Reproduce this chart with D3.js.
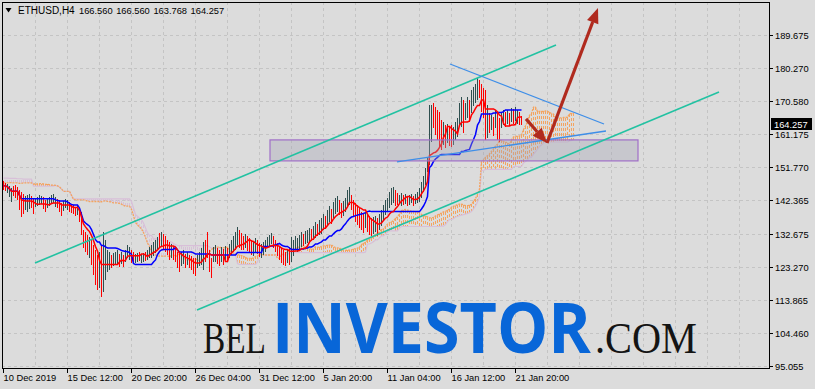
<!DOCTYPE html>
<html>
<head>
<meta charset="utf-8">
<script src="https://cdn.jsdelivr.net/npm/d3@7"></script>
<style>
body { margin: 0; background: #dcdcdc; }
svg { display: block; font-family: "Liberation Sans", Arial, sans-serif; }
</style>
</head>
<body>
<svg id="chart" width="815" height="389"></svg>
<script>
/* ETHUSD H4 bars (one bar every 4 hours) */

var highs = [
	147.9,147.3,147.0,146.4,145.9,146.4,146.7,146.1,145.3,144.7,
	144.1,143.6,143.8,144.1,143.6,142.7,143.0,143.3,143.8,143.6,
	143.3,142.4,142.7,143.3,143.8,144.1,143.3,142.7,142.4,141.6,
	142.1,142.7,142.4,141.9,141.3,141.0,140.4,140.7,140.1,139.0,
	133.8,133.3,132.4,131.9,131.0,129.6,128.1,126.7,127.6,129.6,
	133.3,131.0,128.1,127.6,126.7,127.3,127.6,128.1,127.0,127.6,
	126.7,128.1,129.6,129.0,128.1,127.6,127.0,127.3,127.6,127.0,
	127.3,127.6,128.1,129.0,129.6,130.4,131.0,131.9,133.0,133.3,
	132.7,132.1,131.0,130.4,129.8,129.3,128.7,127.6,127.0,127.6,
	128.1,127.0,127.6,126.7,126.4,125.8,125.8,126.7,127.6,128.7,
	130.4,131.0,133.3,128.1,125.8,129.0,129.6,128.7,128.1,129.0,
	128.4,129.3,128.7,129.8,131.0,132.1,133.3,134.7,133.8,133.0,
	132.1,132.7,132.1,131.5,131.0,130.4,131.5,131.0,130.1,129.8,
	130.4,131.0,131.9,132.4,133.0,132.1,131.0,130.1,129.3,128.7,
	128.1,127.6,128.4,129.0,131.9,131.0,132.1,131.5,132.4,133.3,
	132.7,133.6,133.8,134.4,134.1,135.0,136.1,135.6,136.7,137.3,
	138.4,137.9,139.6,140.7,139.8,141.9,143.0,143.6,142.4,141.6,
	142.1,143.0,145.3,146.1,143.8,142.4,141.6,141.0,140.1,139.0,
	138.7,139.0,138.4,137.9,137.3,137.6,137.9,137.3,138.4,139.6,
	141.0,142.4,143.0,144.7,145.9,146.1,145.3,144.4,143.8,144.4,
	143.8,144.1,143.6,143.8,144.1,143.6,144.1,144.7,145.9,147.6,
	149.3,151.6,154.7,169.6,169.6,170.2,169.0,168.2,167.6,165.3,
	164.7,163.9,164.1,163.3,163.9,163.3,164.7,165.9,170.2,171.9,
	171.0,170.2,171.9,171.0,173.9,174.7,175.6,177.3,176.7,175.6,
	174.4,173.9,169.6,167.3,166.7,166.2,168.2,167.6,165.9,167.6,
	168.2,167.6,168.2,167.3,168.7,168.4,169.0,168.2,167.6,166.56
];

var lows = [
	145.3,145.0,144.4,143.3,141.9,143.6,143.0,142.4,139.6,137.6,
	138.4,139.6,139.0,139.8,140.1,138.4,140.4,140.7,141.0,141.3,
	139.8,139.0,140.1,140.7,141.3,141.6,140.4,140.1,139.0,137.9,
	139.3,140.1,139.6,139.0,138.7,138.4,137.9,138.1,136.1,132.4,
	128.7,127.6,126.7,125.8,123.8,121.0,118.1,116.7,117.3,114.7,
	116.1,119.6,121.8,122.4,123.0,123.6,123.8,124.1,123.3,124.1,
	123.3,124.7,125.8,125.3,124.4,124.7,124.4,124.7,125.0,124.4,
	124.7,125.0,125.3,125.8,125.8,126.4,127.3,128.1,128.7,129.0,
	128.4,127.6,126.7,125.3,125.8,125.3,124.7,123.0,121.8,123.6,
	124.1,123.0,123.8,123.0,122.4,121.3,120.7,123.0,123.6,123.8,
	122.4,124.7,125.8,121.8,120.1,124.7,124.7,124.1,123.6,124.7,
	123.8,125.3,124.7,125.8,126.7,127.6,128.1,129.6,128.7,128.1,
	128.1,128.7,127.8,127.6,126.7,126.4,127.6,127.0,126.1,125.8,
	126.7,127.6,128.7,129.3,129.8,128.7,127.6,126.4,125.3,124.4,
	123.8,123.6,124.4,123.8,124.7,126.4,128.1,127.6,128.1,129.0,
	129.3,129.8,130.1,130.4,130.7,131.0,131.5,132.1,132.4,132.7,
	133.8,134.1,135.0,136.1,135.6,137.3,138.4,139.0,138.1,137.3,
	137.9,139.0,140.4,141.0,139.6,137.9,136.1,135.3,134.4,133.8,
	133.0,134.4,133.3,132.4,132.1,132.7,133.3,132.1,133.8,135.0,
	136.7,138.1,139.0,140.1,141.0,141.6,140.7,141.0,141.3,140.7,
	141.0,141.3,140.7,141.0,141.6,140.7,141.3,141.6,141.9,143.0,
	144.7,146.7,150.4,152.4,159.0,163.0,161.0,159.6,157.6,156.7,
	158.1,157.3,158.7,157.9,157.6,158.1,159.6,160.4,163.9,163.3,
	161.6,165.3,165.9,164.7,167.3,169.3,170.2,171.0,171.6,167.6,
	165.9,159.6,160.1,161.6,162.4,160.7,163.0,159.6,159.0,163.0,
	163.9,163.3,164.1,163.6,164.7,164.1,165.0,164.1,163.9,163.768
];

// u = bar closed up, d = bar closed down
var dirs = "dduuuddddd" + "duuudduuuu" + "dduuuuuddd" + "uuuddddudd" + "ddduddddud" +
	"uuuuduuudu" + "duuudduudu" + "uduuuuuudu" + "dddduddddu" + "ududddduuu" +
	"udddduuddu" + "duduuuuudd" + "duddduuddu" + "uuuuuddddd" + "dduduuuuuu" +
	"duuuduuduu" + "uduuduuudd" + "uuuudddddd" + "duddduuduu" + "uuuuuudduu" +
	"duduuduuuu" + "uuuuuddddd" + "ududduuuuu" + "duuduuuudd" + "ddudududdu" +
	"udududuudd";

// cloud over the first 26 bars comes from bars before the window
var spanAHead = [147.3,147.3,147.3,147.4,147.4,147.3,147.3,147.3,147.2,147.2,147.3,147.3,147.3,
	147.3,147.3,147.0,147.0,147.0,147.1,147.1,147.0,146.9,146.9,146.8,146.7,146.7];
var spanBHead = [148.7,148.7,148.7,148.6,148.6,148.6,148.6,148.5,148.5,148.5,148.4,148.4,148.4,
	148.4,148.4,146.4,146.4,146.4,146.4,146.4,146.4,146.4,146.4,146.4,146.4,146.4];

var priceTicks = [189.675, 180.270, 170.580, 161.175, 151.770, 142.365, 132.675, 123.270, 113.865, 104.460, 95.055];
var timeLabels = ["10 Dec 2019", "15 Dec 12:00", "20 Dec 20:00", "26 Dec 04:00", "31 Dec 12:00",
	"5 Jan 20:00", "11 Jan 04:00", "16 Jan 12:00", "21 Jan 20:00"];
var timeBars = [0, 32, 64, 96, 128, 160, 192, 224, 256];

var lastPrice = 164.257;
var titleValues = "166.560 166.560 163.768 164.257";

/* drawn objects, as [bar, price] */
var channelUpper = [[16, 124.4], [276.5, 186.7]];
var channelLower = [[97, 111.0], [358, 173.3]];
var wedgeUpper = [[223.5, 181.3], [300.5, 164.15]];
var wedgeLower = [[197, 153.3], [301.5, 162.15]];
var zoneBars = [133.5, 317.5];
var zonePrices = [159.6, 153.6];
var arrowShort = [[261.5, 165.6], [272, 158.7]];
var arrowLong = [[272, 158.7], [297.5, 197.3]];

/* layout */

var svg = d3.select("#chart");
var frame = {left: 2, top: 2, right: 769, bottom: 368};

var x = d3.scaleLinear().domain([0, 383]).range([3, 769]);
var y = d3.scaleLinear().domain([95.055, 189.675]).range([365.7, 34.7]);

svg.append("rect").attr("width", 815).attr("height", 389).attr("fill", "#dcdcdc");

svg.append("clipPath").attr("id", "plot-clip")
	.append("rect")
	.attr("x", frame.left + 1).attr("y", frame.top + 1)
	.attr("width", frame.right - frame.left - 1)
	.attr("height", frame.bottom - frame.top - 1);

var plot = svg.append("g").attr("clip-path", "url(#plot-clip)");

/* Grid */

var grid = plot.append("g")
	.attr("stroke", "#c4c4c4")
	.attr("stroke-dasharray", "3,3")
	.attr("shape-rendering", "crispEdges");

grid.selectAll(".hgrid").data(priceTicks)
	.enter().append("line")
	.attr("x1", frame.left).attr("x2", frame.right)
	.attr("y1", function(d){ return Math.round(y(d)) + 0.5; })
	.attr("y2", function(d){ return Math.round(y(d)) + 0.5; });

grid.selectAll(".vgrid").data(d3.range(16, 384, 16))
	.enter().append("line")
	.attr("x1", function(d){ return Math.round(x(d)) + 0.5; })
	.attr("x2", function(d){ return Math.round(x(d)) + 0.5; })
	.attr("y1", frame.top).attr("y2", frame.bottom);

/* Watermark: each word squeezed to the width it has in the picture */

function markWord(word, left, width, family, size, weight, color) {
	var t = plot.append("text")
		.attr("font-family", family)
		.attr("font-size", size)
		.attr("font-weight", weight)
		.attr("fill", color)
		.text(word);
	var natural = t.node().getComputedTextLength();
	t.attr("transform", "translate(" + left + ",353) scale(" + (width / natural) + ",1)");
}

markWord("BEL", 203, 63, "'Liberation Serif', serif", 45, "normal", "#141414");
markWord("INVESTOR", 272, 319, "'Open Sans', sans-serif", 70, "bold", "#0866d8");
markWord(".COM", 595, 102, "'Liberation Serif', serif", 45, "normal", "#141414");

/* Ichimoku (9, 26, 52) */

function midRange(i, n) {
	var from = Math.max(0, i - n + 1);
	var hi = d3.max(highs.slice(from, i + 1));
	var lo = d3.min(lows.slice(from, i + 1));
	return (hi + lo) / 2;
}

var tenkan = highs.map(function(d, i){ return midRange(i, 9); });
var kijun = highs.map(function(d, i){ return midRange(i, 26); });

var spanA = spanAHead.slice();
var spanB = spanBHead.slice();
highs.forEach(function(d, i){
	spanA.push((tenkan[i] + kijun[i]) / 2);
	spanB.push(midRange(i, 52));
});

var cloud = plot.append("g");

cloud.selectAll(".hatch").data(d3.range(spanA.length))
	.enter().append("line")
	.attr("class", "hatch")
	.attr("x1", function(d){ return Math.round(x(d)) + 0.5; })
	.attr("x2", function(d){ return Math.round(x(d)) + 0.5; })
	.attr("y1", function(d){ return y(spanA[d]); })
	.attr("y2", function(d){ return y(spanB[d]); })
	.attr("stroke", function(d){ return spanA[d] >= spanB[d] ? "#f4a460" : "#d8bfd8"; })
	.attr("stroke-width", 1)
	.attr("shape-rendering", "crispEdges")
	.attr("stroke-dasharray", "3,2");

var spanLine = d3.line()
	.x(function(d, i){ return Math.round(x(i)) + 0.5; })
	.y(function(d){ return y(d); });

cloud.append("path")
	.datum(spanB)
	.attr("fill", "none")
	.attr("stroke", "#d8bfd8")
	.attr("stroke-width", 1.2)
	.attr("d", spanLine);

cloud.append("path")
	.datum(spanA)
	.attr("fill", "none")
	.attr("stroke", "#f4a460")
	.attr("stroke-width", 1.3)
	.attr("stroke-dasharray", "2,1")
	.attr("d", spanLine);

/* Bars */

plot.append("g")
	.attr("shape-rendering", "crispEdges")
	.selectAll(".bar").data(d3.range(highs.length))
	.enter().append("line")
	.attr("class", "bar")
	.attr("x1", function(d){ return Math.round(x(d)) + 0.5; })
	.attr("x2", function(d){ return Math.round(x(d)) + 0.5; })
	.attr("y1", function(d){ return y(highs[d]); })
	.attr("y2", function(d){ return y(lows[d]); })
	.attr("stroke", function(d){ return dirs[d] === "u" ? "#2f4f4f" : "#ff0000"; })
	.attr("stroke-width", 1);

/* Tenkan / Kijun */

plot.append("path")
	.datum(kijun)
	.attr("fill", "none")
	.attr("stroke", "#0000ff")
	.attr("stroke-width", 1.5)
	.attr("d", spanLine);

plot.append("path")
	.datum(tenkan)
	.attr("fill", "none")
	.attr("stroke", "#ff0000")
	.attr("stroke-width", 1.5)
	.attr("d", spanLine);

/* Objects */

function segment(pts, color, width) {
	plot.append("line")
		.attr("x1", x(pts[0][0])).attr("y1", y(pts[0][1]))
		.attr("x2", x(pts[1][0])).attr("y2", y(pts[1][1]))
		.attr("stroke", color)
		.attr("stroke-width", width);
}

plot.append("rect")
	.attr("x", x(zoneBars[0]))
	.attr("y", y(zonePrices[0]))
	.attr("width", x(zoneBars[1]) - x(zoneBars[0]))
	.attr("height", y(zonePrices[1]) - y(zonePrices[0]))
	.attr("fill", "rgba(160,160,178,0.35)")
	.attr("stroke", "#a06fc8")
	.attr("stroke-width", 1.2);

segment(channelUpper, "#22c2a2", 1.6);
segment(channelLower, "#22c2a2", 1.6);
segment(wedgeUpper, "#3e8ee8", 1.3);
segment(wedgeLower, "#3e8ee8", 1.3);

function arrow(pts, color) {
	var x0 = x(pts[0][0]), y0 = y(pts[0][1]);
	var x1 = x(pts[1][0]), y1 = y(pts[1][1]);
	var a = Math.atan2(y1 - y0, x1 - x0);
	var len = 15, half = 6;
	var bx = x1 - len * Math.cos(a), by = y1 - len * Math.sin(a);
	plot.append("line")
		.attr("x1", x0).attr("y1", y0)
		.attr("x2", bx).attr("y2", by)
		.attr("stroke", color)
		.attr("stroke-width", 3.2);
	plot.append("path")
		.attr("fill", color)
		.attr("d", "M" + x1 + "," + y1 +
			"L" + (bx + half * Math.sin(a)) + "," + (by - half * Math.cos(a)) +
			"L" + (bx - half * Math.sin(a)) + "," + (by + half * Math.cos(a)) + "Z");
}

arrow(arrowShort, "#b02a1e");
arrow(arrowLong, "#b02a1e");

/* Frame and axes */

var axes = svg.append("g").attr("shape-rendering", "crispEdges");

axes.append("path")
	.attr("fill", "none")
	.attr("stroke", "#000")
	.attr("d", "M" + (frame.left + 0.5) + "," + (frame.top + 0.5) +
		"H" + (frame.right + 0.5) + "V" + (frame.bottom + 0.5) +
		"H" + (frame.left + 0.5) + "Z");

axes.selectAll(".ytick").data(priceTicks)
	.enter().append("line")
	.attr("x1", frame.right).attr("x2", frame.right + 4)
	.attr("y1", function(d){ return Math.round(y(d)) + 0.5; })
	.attr("y2", function(d){ return Math.round(y(d)) + 0.5; })
	.attr("stroke", "#000");

svg.selectAll(".ylabel").data(priceTicks)
	.enter().append("text")
	.attr("x", 775)
	.attr("y", function(d){ return Math.round(y(d)) + 3.5; })
	.attr("font-size", 9.3)
	.attr("fill", "#000")
	.text(function(d){ return d.toFixed(3); });

axes.selectAll(".xtick").data(timeBars)
	.enter().append("line")
	.attr("x1", function(d){ return Math.round(x(d)) + 0.5; })
	.attr("x2", function(d){ return Math.round(x(d)) + 0.5; })
	.attr("y1", frame.bottom).attr("y2", frame.bottom + 5)
	.attr("stroke", "#000");

svg.selectAll(".xlabel").data(timeBars)
	.enter().append("text")
	.attr("x", function(d){ return Math.round(x(d)) + 0.5; })
	.attr("y", 381)
	.attr("font-size", 9.3)
	.attr("fill", "#000")
	.text(function(d, i){ return timeLabels[i]; });

/* Last price tag */

var yLast = Math.round(y(lastPrice));
svg.append("rect")
	.attr("x", 771).attr("y", yLast - 6)
	.attr("width", 41).attr("height", 12)
	.attr("fill", "#000");
svg.append("text")
	.attr("x", 774).attr("y", yLast + 3.5)
	.attr("font-size", 9.3)
	.attr("fill", "#fff")
	.text(lastPrice.toFixed(3));

/* Title */

svg.append("path")
	.attr("d", "M5.5,8L11.5,8L8.5,12.5Z")
	.attr("fill", "#000");
svg.append("text")
	.attr("x", 18).attr("y", 14)
	.attr("font-size", 10)
	.text("ETHUSD,H4");
svg.append("text")
	.attr("x", 79).attr("y", 14)
	.attr("font-size", 9.3)
	.attr("word-spacing", 1)
	.text(titleValues);
</script>
</body>
</html>
